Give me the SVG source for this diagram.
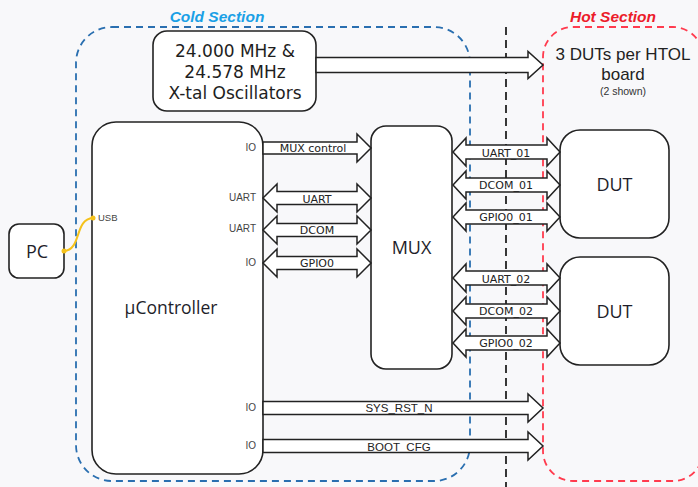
<svg xmlns="http://www.w3.org/2000/svg" width="698" height="487" viewBox="0 0 698 487">
<defs>
<style>
.box{fill:#fff;stroke:#222;stroke-width:1.6}
.arrow{fill:#fff;stroke:#222;stroke-width:1.5;stroke-linejoin:miter}
.big{font-family:"Open Sans","DejaVu Sans",sans-serif;fill:#1e1e2a;text-anchor:middle}
.osc{font-family:"DejaVu Sans",sans-serif;font-size:17px;fill:#1e1e1e;text-anchor:middle}
.lbl{font-family:"DejaVu Sans",sans-serif;font-size:11px;fill:#222;text-anchor:middle}
.lbl2{font-family:"Liberation Sans",Arial,sans-serif;font-size:11.5px;fill:#222;text-anchor:middle}
.pin{font-family:"Liberation Sans",Arial,sans-serif;font-size:10px;fill:#444;text-anchor:end}
.sect{font-family:"Liberation Sans",Arial,sans-serif;font-size:15.5px;font-weight:bold;font-style:italic;text-anchor:middle}
</style>
<path id="dblL" class="arrow" d="M0,0 L14,-14 L14,-6.5 L94,-6.5 L94,-14 L108,0 L94,14 L94,6.5 L14,6.5 L14,14 Z"/>
<path id="dblR" class="arrow" d="M0,0 L13,-14 L13,-7 L94,-7 L94,-14 L107,0 L94,14 L94,7 L13,7 L13,14 Z"/>
</defs>
<rect width="698" height="487" fill="#f8f8fa"/>
<g id="cold-section">
<rect x="76" y="27" width="394" height="454" rx="36" fill="none" stroke="#2a6fb0" stroke-width="1.8" stroke-dasharray="7,5"/>
<text class="sect" x="217" y="22" fill="#1aa0e6">Cold Section</text>
</g>
<g id="hot-section">
<rect x="543" y="27" width="160" height="454" rx="30" fill="none" stroke="#ff3b4e" stroke-width="1.8" stroke-dasharray="7,5"/>
<text class="sect" x="613" y="22" fill="#ec1c2a">Hot Section</text>
<text x="623" y="60" font-family="Liberation Sans, Arial, sans-serif" font-size="17" fill="#222" text-anchor="middle">3 DUTs per HTOL</text>
<text x="623" y="80" font-family="Liberation Sans, Arial, sans-serif" font-size="17" fill="#222" text-anchor="middle">board</text>
<text x="623" y="95" font-family="Liberation Sans, Arial, sans-serif" font-size="10.5" fill="#333" text-anchor="middle">(2 shown)</text>
</g>
<g id="boundary">
<line x1="506" y1="27" x2="506" y2="487" stroke="#222" stroke-width="1.8" stroke-dasharray="8,5"/>
</g>
<g id="oscillators">
<rect class="box" x="153" y="31" width="163" height="80" rx="14"/>
<text class="osc" x="235" y="57">24.000 MHz &amp;</text>
<text class="osc" x="235" y="78">24.578 MHz</text>
<text class="osc" x="235" y="99">X-tal Oscillators</text>
</g>
<g id="pc">
<rect class="box" x="9" y="224" width="55" height="54" rx="10"/>
<text class="big" x="37" y="258" font-size="18">PC</text>
</g>
<g id="controller">
<rect class="box" x="92" y="122" width="171" height="352" rx="24"/>
<text class="big" x="171" y="314" font-size="17.5">µController</text>
<text class="pin" x="256" y="151">IO</text>
<text class="pin" x="256" y="201">UART</text>
<text class="pin" x="256" y="232">UART</text>
<text class="pin" x="256" y="266">IO</text>
<text class="pin" x="256" y="411">IO</text>
<text class="pin" x="256" y="449">IO</text>
<text x="98" y="221" font-family="Liberation Sans, Arial, sans-serif" font-size="9.5" fill="#444">USB</text>
</g>
<g id="mux">
<rect class="box" x="371" y="126" width="81" height="243" rx="15"/>
<text class="big" x="411.5" y="254" font-size="18">MUX</text>
</g>
<g id="dut1">
<rect class="box" x="560" y="130" width="109" height="108" rx="20"/>
<text class="big" x="614.5" y="191" font-size="18">DUT</text>
</g>
<g id="dut2">
<rect class="box" x="560" y="257" width="109" height="108" rx="20"/>
<text class="big" x="614.5" y="318" font-size="18">DUT</text>
</g>
<g id="connectors">
<path d="M64,251 C82,250 74,219 93,218" fill="none" stroke="#f5c21b" stroke-width="2"/>
<circle cx="64" cy="251" r="2.5" fill="#f5c21b"/>
<circle cx="93" cy="218" r="2.5" fill="#f5c21b"/>
<path class="arrow" d="M316,57.5 L528,57.5 L528,51.5 L543,65 L528,78.5 L528,72.5 L316,72.5 Z"/>
<path class="arrow" d="M263,142 L357,142 L357,134 L371,148 L357,162 L357,154 L263,154 Z"/>
<text class="lbl" x="313" y="152">MUX control</text>
<use href="#dblL" transform="translate(263,198)"/>
<text class="lbl" x="317" y="203">UART</text>
<use href="#dblL" transform="translate(263,230)"/>
<text class="lbl" x="317" y="234">DCOM</text>
<use href="#dblL" transform="translate(263,263)"/>
<text class="lbl" x="317" y="267">GPIO0</text>
<use href="#dblR" transform="translate(453,152)"/>
<text class="lbl" x="506" y="157">UART_01</text>
<use href="#dblR" transform="translate(453,185)"/>
<text class="lbl" x="506" y="189">DCOM_01</text>
<use href="#dblR" transform="translate(453,217)"/>
<text class="lbl" x="506" y="221">GPIO0_01</text>
<use href="#dblR" transform="translate(453,278)"/>
<text class="lbl" x="506" y="283">UART_02</text>
<use href="#dblR" transform="translate(453,311)"/>
<text class="lbl" x="506" y="315">DCOM_02</text>
<use href="#dblR" transform="translate(453,343)"/>
<text class="lbl" x="506" y="347">GPIO0_02</text>
<path class="arrow" d="M263,401.5 L528,401.5 L528,394 L543,408 L528,422 L528,414.5 L263,414.5 Z"/>
<text class="lbl2" x="399" y="412">SYS_RST_N</text>
<path class="arrow" d="M263,439.5 L528,439.5 L528,432 L543,446 L528,460 L528,452.5 L263,452.5 Z"/>
<text class="lbl2" x="399" y="451">BOOT_CFG</text>
</g>
</svg>
